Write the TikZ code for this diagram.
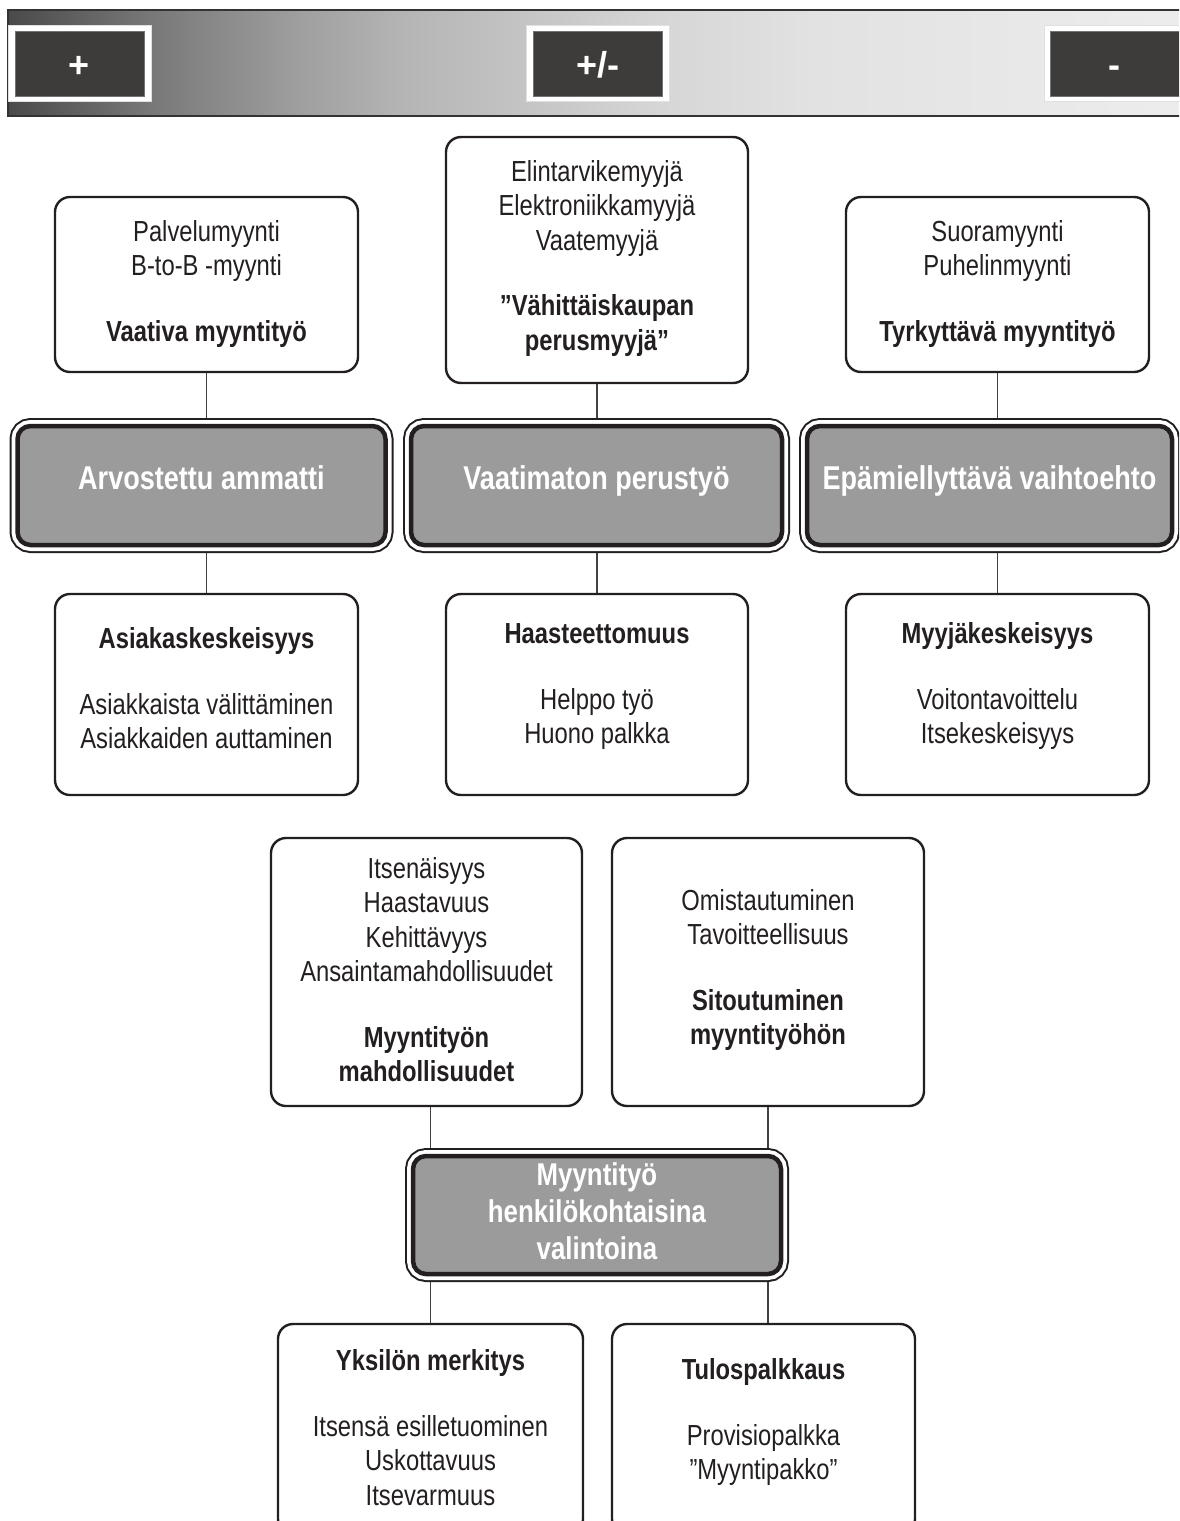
\documentclass[tikz,border=0pt]{standalone}
\usepackage{fontspec}
\setmainfont{Liberation Sans}[FakeStretch=0.82]
\newfontfamily\widefont{Liberation Sans}
\usetikzlibrary{backgrounds}

\definecolor{ink}{HTML}{231F20}
\definecolor{panel}{HTML}{9B9B9B}
\definecolor{tab}{HTML}{3D3C3A}
\definecolor{b0}{HTML}{4A4A4A}
\definecolor{b1}{HTML}{787878}
\definecolor{b2}{HTML}{A0A0A0}
\definecolor{b3}{HTML}{B4B4B4}
\definecolor{b4}{HTML}{D6D6D6}
\definecolor{b5}{HTML}{E2E2E2}
\definecolor{b6}{HTML}{EDEDED}

% grey ramp of the top band (stops placed inside the 25bp--75bp window)
\pgfdeclarehorizontalshading{band}{100bp}{color(0bp)=(b0); color(25bp)=(b0); color(31bp)=(b1);
  color(37.5bp)=(b2); color(41.5bp)=(b3); color(52.5bp)=(b4); color(59bp)=(b5);
  color(75bp)=(b6); color(100bp)=(b6)}

\tikzset{
  wbox/.style={draw=ink, line width=2.4pt, rounded corners=15pt, fill=white, inner sep=0pt},
  gbox/.style={rounded corners=13pt, fill=panel, draw=ink, line width=4.5pt, inner sep=0pt,
    preaction={draw=ink, line width=16pt}, preaction={draw=white, line width=12pt},
    text=white, font=\bfseries\fontsize{33}{38}\selectfont, text height=24pt, text depth=17pt},
  cbox/.style={gbox, align=center, font=\bfseries\fontsize{31.5}{37}\selectfont,
    text height=, text depth=},
  txt/.style={align=center, text=ink, inner sep=0pt, font=\fontsize{29}{34.5}\selectfont},
  tabframe/.style={fill=white, draw=black!12, line width=0.8pt, minimum width=143pt,
    minimum height=76pt, inner sep=0pt},
  tabbox/.style={fill=tab, draw=black!55, line width=0.8pt, minimum width=129pt,
    minimum height=65pt, inner sep=0pt, text=white, text height=27pt, text depth=0pt,
    font=\widefont\bfseries\fontsize{36}{40}\selectfont},
  conn/.style={draw=ink!85, line width=1.5pt},
}

\begin{document}
\begin{tikzpicture}[x=1pt, y=-1pt]
\useasboundingbox (0,0) rectangle (1179,1521);
\clip (0,0) rectangle (1179,1521);

% top band with the three rating tabs
\shade[shading=band] (8,10) rectangle (1195,116);
\draw[line width=1.6pt, draw=black!80] (8,10) rectangle (1195,116);

\node[tabframe] (fPlus) at (79.5,63) {};
\node[tabbox] (tPlus) at (79.5,63.5) {+};
\node[tabframe] (fMid) at (597.5,63) {};
\node[tabbox] (tMid) at (597.5,63.5) {+/-};
\node[tabframe] (fMinus) at (1115.5,63) {};
\node[tabbox] (tMinus) at (1114.5,63.5) {-};

% first row: kinds of selling
\node[wbox, minimum width=303pt, minimum height=175pt] (r1L) at (206.5,284.5) {};
\node[txt] (r1L-t) at (206.5,284.5) {\strut Palvelumyynti\\B-to-B -myynti\\[31pt]\textbf{Vaativa myyntityö}\strut};
\node[wbox, minimum width=302pt, minimum height=246pt] (r1M) at (597,260) {};
\node[txt] (r1M-t) at (597,259) {\strut Elintarvikemyyjä\\Elektroniikkamyyjä\\Vaatemyyjä\\[31pt]\textbf{”Vähittäiskaupan}\\\textbf{perusmyyjä”}\strut};
\node[wbox, minimum width=303pt, minimum height=175pt] (r1R) at (997.5,284.5) {};
\node[txt] (r1R-t) at (997.5,284.5) {\strut Suoramyynti\\Puhelinmyynti\\[31pt]\textbf{Tyrkyttävä myyntityö}\strut};

% second row: how the occupation is seen
\node[gbox, minimum width=368pt, minimum height=119pt] (gL) at (201.5,485.5) {Arvostettu ammatti};
\node[gbox, minimum width=371pt, minimum height=119pt] (gM) at (596.5,485.5) {Vaatimaton perustyö};
\node[gbox, minimum width=365pt, minimum height=119pt] (gR) at (989.5,485.5) {Epämiellyttävä vaihtoehto};

% third row: characteristics
\node[wbox, minimum width=303pt, minimum height=201pt] (r3L) at (206.5,694.5) {};
\node[txt] (r3L-t) at (206.5,692) {\strut\textbf{Asiakaskeskeisyys}\\[31pt]Asiakkaista välittäminen\\Asiakkaiden auttaminen\strut};
\node[wbox, minimum width=302pt, minimum height=201pt] (r3M) at (597,694.5) {};
\node[txt] (r3M-t) at (597,687) {\strut\textbf{Haasteettomuus}\\[31pt]Helppo työ\\Huono palkka\strut};
\node[wbox, minimum width=303pt, minimum height=201pt] (r3R) at (997.5,694.5) {};
\node[txt] (r3R-t) at (997.5,687) {\strut\textbf{Myyjäkeskeisyys}\\[31pt]Voitontavoittelu\\Itsekeskeisyys\strut};

% lower part: personal choices
\node[wbox, minimum width=311pt, minimum height=268pt] (lL) at (426.5,972) {};
\node[txt] (lL-t) at (426.5,973) {\strut Itsenäisyys\\Haastavuus\\Kehittävyys\\Ansaintamahdollisuudet\\[31pt]\textbf{Myyntityön}\\\textbf{mahdollisuudet}\strut};
\node[wbox, minimum width=312pt, minimum height=268pt] (lR) at (768,972) {};
\node[txt] (lR-t) at (768,970.5) {\strut Omistautuminen\\Tavoitteellisuus\\[31pt]\textbf{Sitoutuminen}\\\textbf{myyntityöhön}\strut};

\node[cbox, minimum width=368pt, minimum height=118pt] (gB) at (597,1215) {\strut Myyntityö\\henkilökohtaisina\\valintoina\strut};

\node[wbox, minimum width=305pt, minimum height=210pt] (bL) at (430.5,1429) {};
\node[txt] (bL-t) at (430.5,1431) {\strut\textbf{Yksilön merkitys}\\[31pt]Itsensä esilletuominen\\Uskottavuus\\Itsevarmuus\strut};
\node[wbox, minimum width=303pt, minimum height=210pt] (bR) at (763.5,1429) {};
\node[txt] (bR-t) at (763.5,1423) {\strut\textbf{Tulospalkkaus}\\[31pt]Provisiopalkka\\”Myyntipakko”\strut};

% connectors run behind the panels
\begin{scope}[on background layer]
  \draw[conn] (r1L.south) -- (r3L.north);
  \draw[conn] (r1M.south) -- (r3M.north);
  \draw[conn] (r1R.south) -- (r3R.north);
  \draw[conn] (bL.north |- lL.south) -- (bL.north);
  \draw[conn] (lR.south) -- (lR.south |- bR.north);
\end{scope}
\end{tikzpicture}
\end{document}
